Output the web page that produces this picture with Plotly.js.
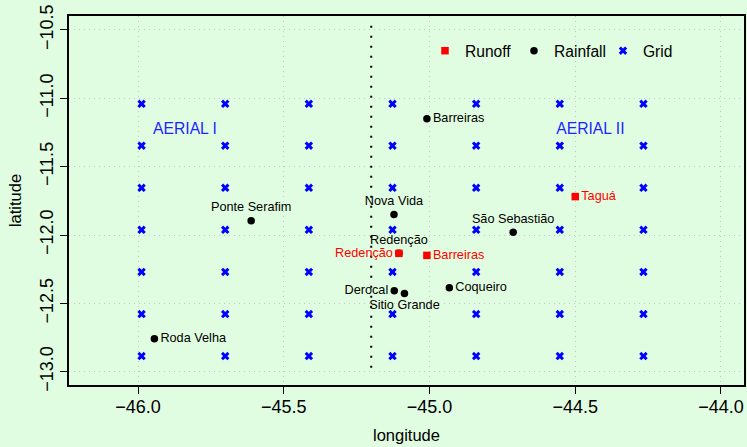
<!DOCTYPE html>
<html>
<head>
<meta charset="utf-8">
<script src="https://cdn.plot.ly/plotly-3.0.1.min.js"></script>
<style>html,body{margin:0;padding:0;background:#E1FDE1;}</style>
</head>
<body>
<div id="chart" style="width:747px;height:447px;"></div>
<script>
// Grid (blue x) coordinates
const gridLon = [-45.988, -45.701, -45.414, -45.127, -44.840, -44.553, -44.266];
const gridLat = [-11.040, -11.347, -11.655, -11.962, -12.270, -12.578, -12.885];

// Rainfall stations
const rainNames = ["Barreiras", "Ponte Serafim", "Nova Vida", "São Sebastião", "Redenção",
                   "Derocal", "Sitio Grande", "Coqueiro", "Roda Velha"];
const rainLon = [-45.009, -45.612, -45.122, -44.713, -45.105, -45.121, -45.086, -44.932, -45.944];
const rainLat = [-11.149, -11.895, -11.849, -11.980, -12.134, -12.407, -12.427, -12.385, -12.758];
const rainPos = ["middle right", "top center", "top center", "top center", "top center",
                 "middle left", "bottom center", "middle right", "middle right"];

// Runoff stations
const runNames = ["Redenção", "Barreiras", "Taguá"];
const runLon = [-45.105, -45.009, -44.500];
const runLat = [-12.134, -12.149, -11.719];
const runPos = ["middle left", "middle right", "middle right"];

// Region labels
const regionNames = ["AERIAL I", "AERIAL II"];
const regionLon = [-45.839, -44.448];
const regionLat = [-11.236, -11.236];

// Divider line
const dividerLon = -45.2;
const dividerLat = [-10.47, -13.03];

// Axis ticks
const xTicks = [-46.0, -45.5, -45.0, -44.5, -44.0];
const yTicks = [-13.0, -12.5, -12.0, -11.5, -11.0, -10.5];
const xRange = [-46.237, -43.921];
const yRange = [-13.097, -10.398];

const gx = [], gy = [];
gridLon.forEach(lo => gridLat.forEach(la => { gx.push(lo); gy.push(la); }));

const FONT = "Liberation Sans, Arial, Helvetica, sans-serif";
const CLEAR = "rgba(0,0,0,0)";

const traces = [
  {x: [dividerLon, dividerLon], y: dividerLat, mode: "lines", showlegend: false, hoverinfo: "skip",
   line: {color: "black", width: 2, dash: "2px,8px"}},
  {x: gx, y: gy, mode: "markers", name: "Grid",
   marker: {symbol: "x", size: 7.5, color: "blue", line: {width: 0}}},
  {x: rainLon, y: rainLat, mode: "markers", name: "Rainfall",
   marker: {symbol: "circle", size: 7.5, color: "black"}},
  {x: rainLon, y: rainLat, mode: "markers+text", text: rainNames, textposition: rainPos, showlegend: false,
   marker: {size: 8, color: CLEAR}, textfont: {family: FONT, size: 12.7, color: "black"}, hoverinfo: "skip"},
  {x: runLon, y: runLat, mode: "markers", name: "Runoff",
   marker: {symbol: "square", size: 7.5, color: "red"}},
  {x: runLon, y: runLat, mode: "markers+text", text: runNames, textposition: runPos, showlegend: false,
   marker: {size: 8, color: CLEAR}, textfont: {family: FONT, size: 12.7, color: "red"}, hoverinfo: "skip"},
  {x: regionLon, y: regionLat, mode: "text", text: regionNames, textposition: "middle center", showlegend: false,
   textfont: {family: FONT, size: 15.7, color: "#1f1fff"}, hoverinfo: "skip"}
];

const axisCommon = {
  showline: true, mirror: true, linecolor: "black", linewidth: 2,
  ticks: "outside", ticklen: 7, tickwidth: 1, tickcolor: "black",
  showgrid: true, gridcolor: "#c8c8c8", gridwidth: 1, griddash: "1px,4px",
  zeroline: false, tickformat: ".1f",
  tickfont: {family: FONT, size: 18, color: "black"}
};

const layout = {
  width: 747, height: 447,
  paper_bgcolor: "#E1FDE1", plot_bgcolor: "#E1FDE1",
  margin: {l: 69, r: 3, t: 16, b: 62},
  font: {family: FONT, color: "black"},
  xaxis: Object.assign({}, axisCommon, {
    range: xRange, tickvals: xTicks, ticklabelstandoff: -3,
    title: {text: "longitude", font: {family: FONT, size: 16.5}, standoff: 14}
  }),
  yaxis: Object.assign({}, axisCommon, {
    range: yRange, tickvals: yTicks, tickangle: -90,
    title: {text: "latitude", font: {family: FONT, size: 16.5}, standoff: 11}
  }),
  legend: {
    orientation: "h", x: 0.5274, xanchor: "left", y: 0.905, yanchor: "middle",
    bgcolor: CLEAR, borderwidth: 0, traceorder: "reversed", entrywidth: 44,
    font: {family: FONT, size: 15.6, color: "black"}
  },
  showlegend: true
};

Plotly.newPlot("chart", traces, layout, {staticPlot: true, displayModeBar: false});
</script>
</body>
</html>
